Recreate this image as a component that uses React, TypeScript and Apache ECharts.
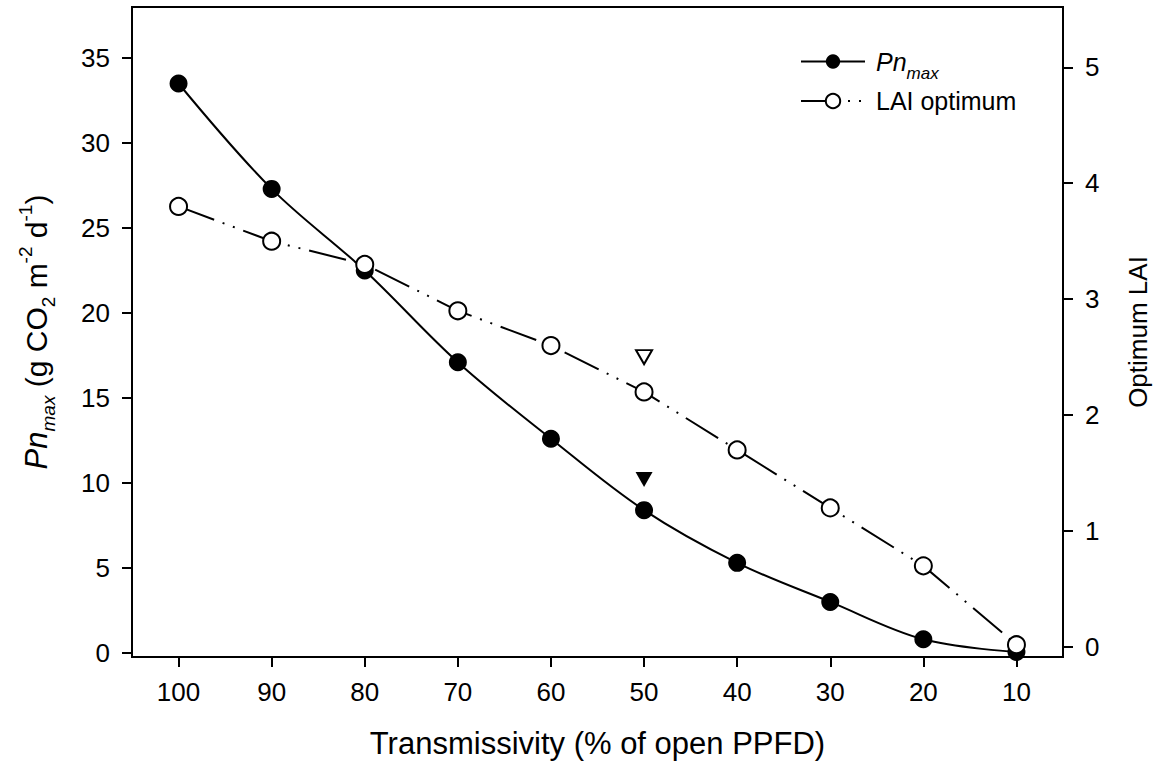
import React, { useEffect, useRef } from "react";
import * as echarts from "echarts";

const transmissivity = [100, 90, 80, 70, 60, 50, 40, 30, 20, 10];
const pnMax = [33.5, 27.3, 22.5, 17.1, 12.6, 8.4, 5.3, 3.0, 0.8, 0.05];
const laiOptimum = [3.8, 3.5, 3.3, 2.9, 2.6, 2.2, 1.7, 1.2, 0.7, 0.02];
const pnMarker: [number, number][] = [[50, 10.2]];
const laiMarker: [number, number][] = [[50, 2.5]];
const xTicks = [100, 90, 80, 70, 60, 50, 40, 30, 20, 10];
const leftTicks = [0, 5, 10, 15, 20, 25, 30, 35];
const rightTicks = [0, 1, 2, 3, 4, 5];

const FONT = "'Liberation Sans', Arial, Helvetica, sans-serif";

export default function App() {
  const ref = useRef<HTMLDivElement>(null);
  useEffect(() => {
    if (!ref.current) return;
    const chart = echarts.init(ref.current, undefined, { renderer: "svg" });
    const axisLine = { show: true, onZero: false, lineStyle: { color: "#000", width: 2 } };
    const label = { color: "#000", fontSize: 26, fontFamily: FONT, margin: 22 };
    const tick = { show: true, inside: false, length: 10, lineStyle: { color: "#000", width: 2 } };
    chart.setOption({
      animation: false,
      backgroundColor: "#fff",
      textStyle: { fontFamily: FONT, color: "#000" },
      grid: {
        left: 132,
        right: 99,
        top: 7,
        bottom: 113,
        show: true,
        borderColor: "#000",
        borderWidth: 2,
        backgroundColor: "transparent",
      },
      legend: {
        show: true,
        orient: "vertical",
        left: 795,
        top: 44,
        itemWidth: 64,
        itemHeight: 18,
        itemGap: 7,
        data: ["Pn_max", "LAI optimum"],
        formatter: (name: string) => (name === "Pn_max" ? "{i|Pn}{s|max}" : "{n|LAI optimum}"),
        textStyle: {
          color: "#000",
          fontSize: 25,
          fontFamily: FONT,
          padding: [0, 0, 0, 6],
          rich: {
            i: { fontSize: 25, fontStyle: "italic", fontFamily: FONT, color: "#000", lineHeight: 30, verticalAlign: "middle" },
            s: { fontSize: 17, fontStyle: "italic", fontFamily: FONT, color: "#000", lineHeight: 18, verticalAlign: "bottom", padding: [0, 0, -5, 0] },
            n: { fontSize: 25, fontFamily: FONT, color: "#000", lineHeight: 30 },
          },
        },
      },
      xAxis: {
        type: "value",
        inverse: true,
        min: 5,
        max: 105,
        name: "Transmissivity (% of open PPFD)",
        nameLocation: "middle",
        nameGap: 71,
        nameTextStyle: { fontSize: 31, fontFamily: FONT, color: "#000" },
        axisLine,
        axisTick: { ...tick, customValues: xTicks },
        axisLabel: { ...label, customValues: xTicks, margin: 22 },
        splitLine: { show: false },
      },
      yAxis: [
        {
          type: "value",
          position: "left",
          min: -0.24,
          max: 38.0,
          name: "{i|Pn}{s|max}{n| (g CO}{s2|2}{n| m}{p|-2}{n| d}{p|-1}{n|)}",
          nameLocation: "middle",
          nameRotate: 90,
          nameGap: 76,
          nameTextStyle: {
            fontSize: 30,
            fontFamily: FONT,
            color: "#000",
            rich: {
              i: { fontSize: 31, fontStyle: "italic", fontFamily: FONT, color: "#000", lineHeight: 40 },
              n: { fontSize: 30, fontFamily: FONT, color: "#000", lineHeight: 40 },
              s: { fontSize: 19, fontStyle: "italic", fontFamily: FONT, color: "#000", lineHeight: 22, verticalAlign: "bottom", padding: [0, 0, -2, 0] },
              s2: { fontSize: 19, fontFamily: FONT, color: "#000", lineHeight: 22, verticalAlign: "bottom", padding: [0, 0, -2, 0] },
              p: { fontSize: 19, fontFamily: FONT, color: "#000", lineHeight: 22, verticalAlign: "top" },
            },
          },
          axisLine,
          axisTick: { ...tick, customValues: leftTicks },
          axisLabel: { ...label, customValues: leftTicks },
          splitLine: { show: false },
        },
        {
          type: "value",
          position: "right",
          min: -0.086,
          max: 5.52,
          name: "Optimum LAI",
          nameLocation: "middle",
          nameRotate: 90,
          nameGap: 62,
          nameTextStyle: { fontSize: 26, fontFamily: FONT, color: "#000" },
          axisLine,
          axisTick: { ...tick, customValues: rightTicks },
          axisLabel: { ...label, customValues: rightTicks },
          splitLine: { show: false },
        },
      ],
      series: [
        {
          name: "Pn_max",
          type: "line",
          yAxisIndex: 0,
          smooth: 0.35,
          data: transmissivity.map((t, i) => [t, pnMax[i]]),
          symbol: "circle",
          symbolSize: 18,
          itemStyle: { color: "#000", borderColor: "#000", borderWidth: 0, opacity: 1 },
          lineStyle: { color: "#000", width: 2 },
          z: 2,
        },
        {
          name: "LAI optimum",
          type: "line",
          yAxisIndex: 1,
          data: transmissivity.map((t, i) => [t, laiOptimum[i]]),
          symbol: "circle",
          symbolSize: 17,
          itemStyle: { color: "#fff", borderColor: "#000", borderWidth: 2, opacity: 1 },
          lineStyle: { color: "#000", width: 2, type: [38, 9, 2, 9, 2, 9] },
          z: 3,
        },
        {
          name: "Pn marker",
          type: "scatter",
          yAxisIndex: 0,
          data: pnMarker,
          symbol: "triangle",
          symbolRotate: 180,
          symbolSize: [17, 15],
          itemStyle: { color: "#000", opacity: 1 },
          z: 4,
        },
        {
          name: "LAI marker",
          type: "scatter",
          yAxisIndex: 1,
          data: laiMarker,
          symbol: "triangle",
          symbolRotate: 180,
          symbolSize: [16, 14],
          itemStyle: { color: "#fff", borderColor: "#000", borderWidth: 2, opacity: 1 },
          z: 4,
        },
      ],
    });
    return () => chart.dispose();
  }, []);
  return (
    <div
      ref={ref}
      style={{ position: "fixed", left: 0, top: 0, width: 1162, height: 770, background: "#fff" }}
    />
  );
}
